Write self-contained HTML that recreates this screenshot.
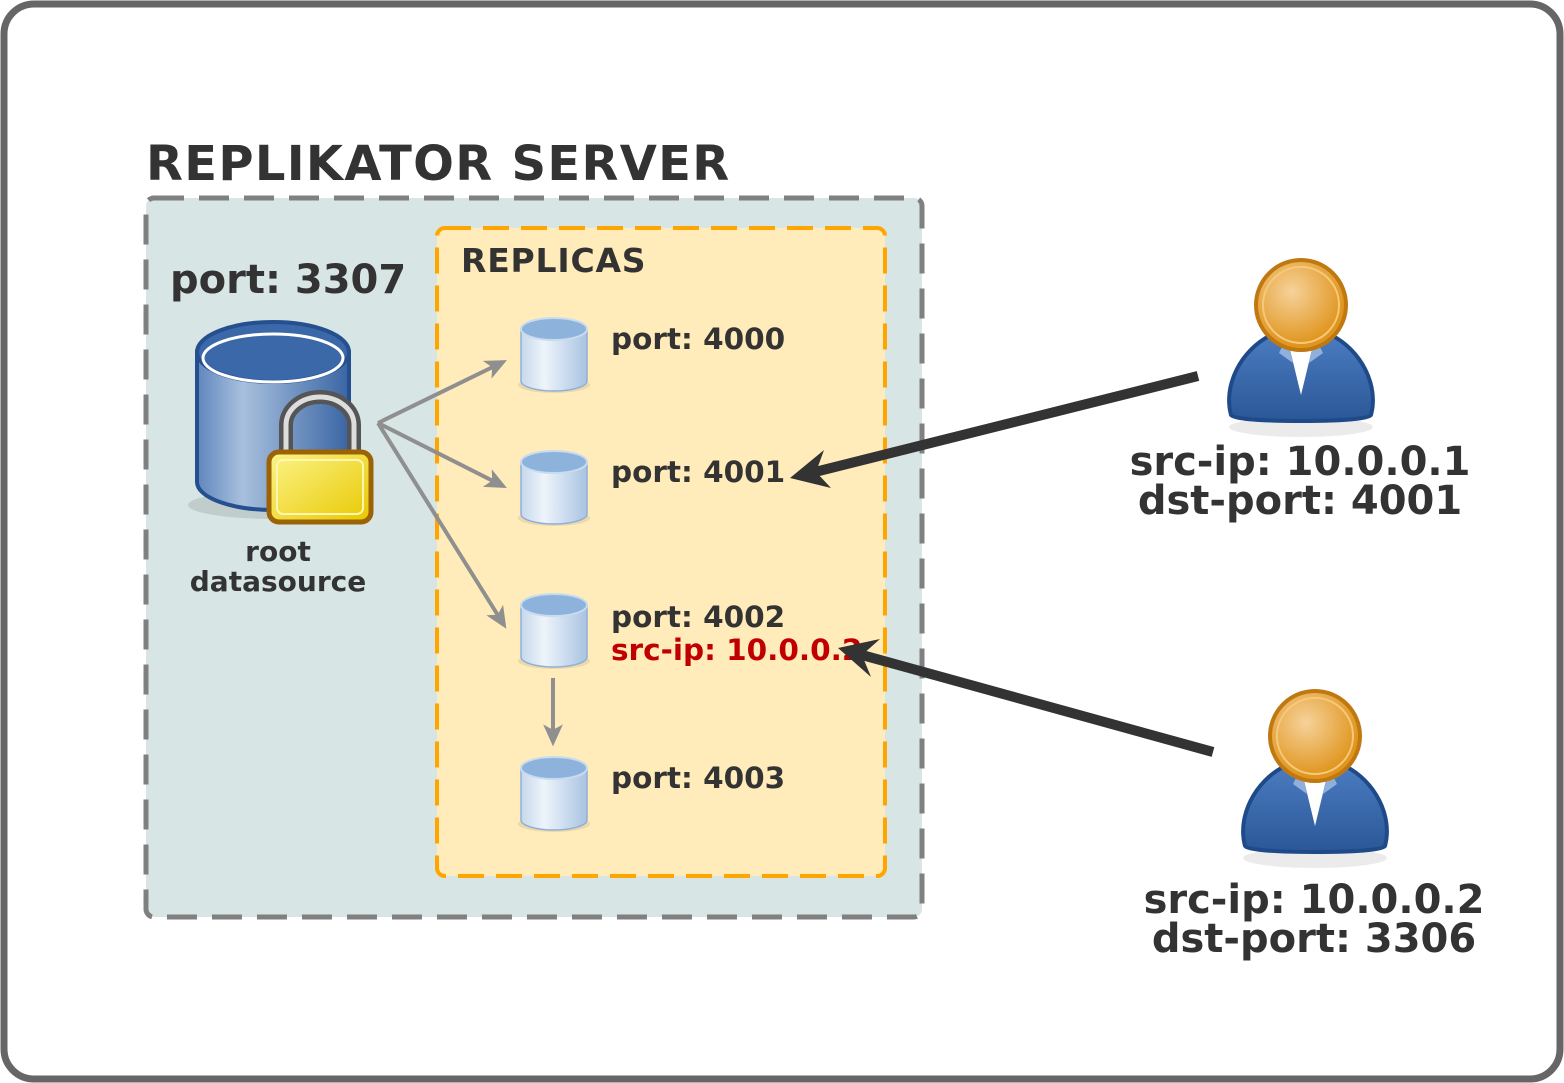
<!DOCTYPE html>
<html><head><meta charset="utf-8"><style>
html,body{margin:0;padding:0;background:#fff;}
svg{display:block;}
text{font-family:"DejaVu Sans","Liberation Sans",sans-serif;font-weight:bold;fill:#333;}
</style></head><body>
<svg width="1564" height="1083" viewBox="0 0 1564 1083" xmlns="http://www.w3.org/2000/svg">
<defs>
<linearGradient id="cyl" x1="0" x2="1" y1="0" y2="0">
<stop offset="0" stop-color="#c6d8ec"/><stop offset="0.35" stop-color="#eef4fb"/><stop offset="1" stop-color="#a9c3e2"/></linearGradient>
<linearGradient id="bcyl" x1="0" x2="1"><stop offset="0" stop-color="#5f86bd"/><stop offset="0.3" stop-color="#a8c0de"/><stop offset="1" stop-color="#3a65a4"/></linearGradient>
<linearGradient id="lock" x1="0" x2="1" y1="0" y2="1"><stop offset="0" stop-color="#fcf48a"/><stop offset="1" stop-color="#e8c800"/></linearGradient>
<radialGradient id="head" cx="0.4" cy="0.35" r="0.6"><stop offset="0" stop-color="#f6d29a"/><stop offset="1" stop-color="#e0951e"/></radialGradient>
<linearGradient id="body" x1="0" x2="0" y1="0" y2="1"><stop offset="0" stop-color="#4a7cc0"/><stop offset="1" stop-color="#2b5797"/></linearGradient>
<marker id="ga" markerWidth="22" markerHeight="22" refX="8" refY="5" orient="auto" markerUnits="userSpaceOnUse" viewBox="0 0 10 10"><path d="M0,0.5 L10,5 L0,9.5 L2.5,5z" fill="#8f8f8f"/></marker>
<g id="sc">
<ellipse cx="33" cy="68" rx="36" ry="8" fill="#000" opacity="0.08"/>
<path d="M0,12 L0,64 A33,10 0 0 0 66,64 L66,12z" fill="url(#cyl)" stroke="#8fb0d6" stroke-width="1.5"/>
<ellipse cx="33" cy="12" rx="33" ry="11" fill="#8db3dc" stroke="#c9dbef" stroke-width="2"/>
</g>
<g id="user">
<ellipse cx="0" cy="122" rx="72" ry="10" fill="#000" opacity="0.08"/>
<path d="M-70,110 C-78,80 -60,45 -30,30 L30,30 C60,45 78,80 70,110 C70,118 -70,118 -70,110z" fill="url(#body)" stroke="#1f4a8a" stroke-width="4"/>
<path d="M-14,32 L0,90 L14,32z" fill="#fff"/>
<path d="M-14,32 L-22,48 L-8,58z M14,32 L22,48 L8,58z" fill="#8fb0dc"/>
<circle cx="0" cy="0" r="45" fill="url(#head)" stroke="#c07810" stroke-width="4"/>
<circle cx="0" cy="0" r="38" fill="none" stroke="#f6c97a" stroke-width="2"/>
</g>
</defs>
<rect x="4" y="4" width="1556" height="1075" rx="30" fill="#fff" stroke="#666" stroke-width="7"/>
<text x="146" y="180" font-size="48" letter-spacing="1.3">REPLIKATOR SERVER</text>
<rect x="146" y="198" width="776" height="719" rx="8" fill="#d7e5e4" stroke="#808080" stroke-width="5" stroke-dasharray="30,15"/>
<rect x="437" y="228" width="448" height="648" rx="8" fill="#ffecba" stroke="#ffa500" stroke-width="4" stroke-dasharray="26,12"/>
<text x="461" y="272" font-size="33" letter-spacing="0.8">REPLICAS</text>
<text x="170" y="293" font-size="40">port: 3307</text>
<!-- big DB -->
<ellipse cx="273" cy="505" rx="85" ry="14" fill="#000" opacity="0.1"/>
<path d="M197,352 L197,482 A76,28 0 0 0 349,482 L349,352z" fill="url(#bcyl)" stroke="#254f8f" stroke-width="4"/>
<ellipse cx="273" cy="352" rx="76" ry="30" fill="#3a68a8" stroke="#254f8f" stroke-width="4"/>
<ellipse cx="273" cy="358" rx="70" ry="24" fill="none" stroke="#fff" stroke-width="3"/>
<!-- lock -->
<path d="M286,455 L286,425 A34,28 0 0 1 354,425 L354,455" fill="none" stroke="#555" stroke-width="14"/>
<path d="M286,455 L286,425 A34,28 0 0 1 354,425 L354,455" fill="none" stroke="#ddd" stroke-width="5"/>
<rect x="269" y="452" width="102" height="70" rx="10" fill="url(#lock)" stroke="#9b6304" stroke-width="5"/>
<rect x="277" y="460" width="86" height="54" rx="6" fill="none" stroke="#fff7b0" stroke-width="2"/>
<text x="278" y="561" font-size="28" text-anchor="middle">root</text>
<text x="278" y="591" font-size="28" text-anchor="middle">datasource</text>
<!-- arrows -->
<g stroke="#8f8f8f" stroke-width="4" fill="none" marker-end="url(#ga)">
<line x1="378" y1="423" x2="503" y2="362"/>
<line x1="378" y1="423" x2="503" y2="486"/>
<line x1="378" y1="423" x2="504" y2="625"/>
<line x1="553" y1="678" x2="553" y2="742"/>
</g>
<use href="#sc" x="521" y="317"/>
<use href="#sc" x="521" y="450"/>
<use href="#sc" x="521" y="593"/>
<use href="#sc" x="521" y="756"/>
<text x="611" y="349" font-size="29.5">port: 4000</text>
<text x="611" y="482" font-size="29.5">port: 4001</text>
<text x="611" y="627" font-size="29.5">port: 4002</text>
<text x="611" y="660" font-size="29.5" style="fill:#c00000">src-ip: 10.0.0.2</text>
<text x="611" y="788" font-size="29.5">port: 4003</text>
<!-- users -->
<use href="#user" x="1301" y="305"/>
<use href="#user" x="1315" y="736"/>
<text x="1300" y="475" font-size="40" text-anchor="middle">src-ip: 10.0.0.1</text>
<text x="1300" y="514" font-size="40" text-anchor="middle">dst-port: 4001</text>
<text x="1314" y="913" font-size="40" text-anchor="middle">src-ip: 10.0.0.2</text>
<text x="1314" y="952" font-size="40" text-anchor="middle">dst-port: 3306</text>
<!-- black arrows -->
<line x1="1198" y1="376" x2="815" y2="472" stroke="#333" stroke-width="10"/>
<path d="M790,478 L824,450 L816,472 L831,488z" fill="#333"/>
<line x1="1213" y1="752" x2="862" y2="655" stroke="#333" stroke-width="10"/>
<path d="M838,648 L880,639 L862,655 L871,677z" fill="#333"/>
</svg>
</body></html>
